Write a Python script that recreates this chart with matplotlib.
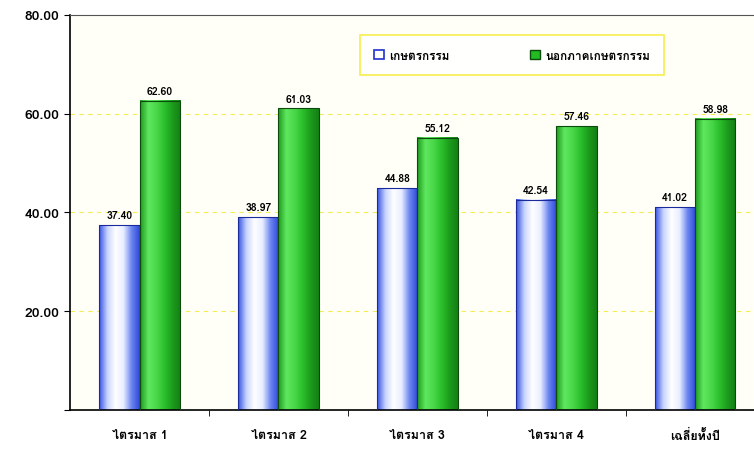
import numpy as np
import matplotlib
matplotlib.use("Agg")
import matplotlib.pyplot as plt
from matplotlib import font_manager
from matplotlib.ft2font import FT2Font
from matplotlib.patches import Patch

# ข้อมูล
categories = ["ไตรมาส 1", "ไตรมาส 2", "ไตรมาส 3", "ไตรมาส 4", "เฉลี่ยทั้งปี"]
agri = [37.40, 38.97, 44.88, 42.54, 41.02]
non_agri = [62.60, 61.03, 55.12, 57.46, 58.98]
series_names = ["เกษตรกรรม", "นอกภาคเกษตรกรรม"]
yticks = [0, 20, 40, 60, 80]


# หาฟอนต์ที่มีตัวอักษรไทย
def find_thai_font():
    best = None
    for f in font_manager.fontManager.ttflist:
        try:
            ft = FT2Font(f.fname)
            if ft.get_char_index(ord("ไ")) and ft.get_char_index(ord("ษ")):
                if f.weight in ("bold", 700) or "Bold" in f.fname:
                    return f.name
                best = best or f.name
        except Exception:
            pass
    return best


thai = find_thai_font()
fams = ([thai] if thai else []) + ["DejaVu Sans"]
plt.rcParams["font.family"] = fams

fig = plt.figure(figsize=(7.54, 4.52), dpi=100)
ax = fig.add_axes([0.093, 0.091, 0.91, 0.874])
ax.set_facecolor("#fffff8")

x = np.arange(len(categories))
w = 0.29
b1 = ax.bar(x - w / 2, agri, w, color="none", edgecolor="#1a2a9a", linewidth=0.8, zorder=3)
b2 = ax.bar(x + w / 2, non_agri, w, color="none", edgecolor="#0d4a0d", linewidth=0.8, zorder=3)

# ไล่สีแท่ง
blue_cmap = matplotlib.colors.LinearSegmentedColormap.from_list(
    "b", ["#3a55e0", "#c8d4ff", "#ffffff", "#e8eeff", "#6d86f0", "#2e48d8"])
green_cmap = matplotlib.colors.LinearSegmentedColormap.from_list(
    "g", ["#1f9a1f", "#5fe85f", "#4ad84a", "#2cc02c", "#1c9c1c", "#158015"])
grad = np.linspace(0, 1, 64).reshape(1, -1)
for bars, cm in ((b1, blue_cmap), (b2, green_cmap)):
    for r in bars:
        ax.imshow(grad, cmap=cm, aspect="auto", zorder=2,
                  extent=(r.get_x(), r.get_x() + r.get_width(), 0, r.get_height()))

for bars, vals in ((b1, agri), (b2, non_agri)):
    for r, v in zip(bars, vals):
        ax.text(r.get_x() + r.get_width() / 2, v + 1.0, f"{v:.2f}",
                ha="center", va="bottom", fontsize=7.5, fontweight="bold", zorder=4)

ax.set_xlim(-0.5, 4.44)
ax.set_ylim(0, 80)
ax.set_yticks(yticks)
ax.set_yticklabels(["" if t == 0 else f"{t:.2f}" for t in yticks],
                   fontsize=10, fontweight="bold")
for t in yticks[1:-1]:
    ax.axhline(t, color="#f4ec50", linestyle=(0, (4, 4)), linewidth=0.8, zorder=1)

ax.set_xticks(x)
ax.set_xticklabels(categories, fontsize=9, fontweight="bold")
ax.tick_params(axis="x", which="major", length=0, pad=14)
ax.set_xticks(x[:-1] + 0.5, minor=True)
ax.tick_params(axis="x", which="minor", length=4, direction="out")
ax.tick_params(axis="y", length=4, direction="out")

ax.spines["left"].set_linewidth(1.2)
ax.spines["bottom"].set_linewidth(1.2)
ax.spines["top"].set_color("#555555")
ax.spines["top"].set_linewidth(0.8)
ax.spines["right"].set_visible(False)

handles = [Patch(facecolor="white", edgecolor="#2030d0", linewidth=1.2),
           Patch(facecolor="#22bb22", edgecolor="#0d4a0d", linewidth=1.0)]
leg = ax.legend(handles, series_names, ncol=2, loc="upper left",
                bbox_to_anchor=(0.422, 0.948), frameon=True, fancybox=False,
                prop={"size": 8.5, "weight": "bold"}, handlelength=0.9,
                handleheight=0.9, columnspacing=6.8, borderpad=1.2,
                borderaxespad=0, handletextpad=0.4)
leg.get_frame().set_edgecolor("#f5ea20")
leg.get_frame().set_linewidth(1.2)
leg.get_frame().set_facecolor("white")

fig.savefig("out.png", dpi=100)
